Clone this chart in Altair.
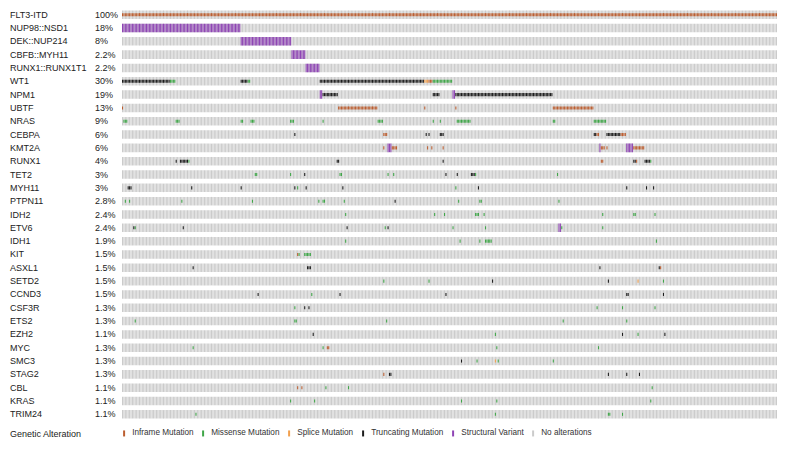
import altair as alt
import pandas as pd

GENES = ["FLT3-ITD", "NUP98::NSD1", "DEK::NUP214", "CBFB::MYH11", "RUNX1::RUNX1T1",
         "WT1", "NPM1", "UBTF", "NRAS", "CEBPA", "KMT2A", "RUNX1", "TET2", "MYH11",
         "PTPN11", "IDH2", "ETV6", "IDH1", "KIT", "ASXL1", "SETD2", "CCND3", "CSF3R",
         "ETS2", "EZH2", "MYC", "SMC3", "STAG2", "CBL", "KRAS", "TRIM24"]
PCTS = ["100%", "18%", "8%", "2.2%", "2.2%", "30%", "19%", "13%", "9%", "6%", "6%",
        "4%", "3%", "3%", "2.8%", "2.4%", "2.4%", "1.9%", "1.5%", "1.5%", "1.5%",
        "1.5%", "1.3%", "1.3%", "1.1%", "1.3%", "1.3%", "1.3%", "1.1%", "1.1%", "1.1%"]
N_SAMPLES = 464

TYPES = ["Inframe Mutation", "Missense Mutation", "Splice Mutation",
         "Truncating Mutation", "Structural Variant", "No alterations"]
COLORS = ["#bc5e30", "#3fa648", "#f2a04e", "#1c1c1c", "#8f45b5", "#cbcbcb"]

# runs of samples: (gene, first sample, last sample + 1)
STRUCTURAL = [("NUP98::NSD1", 0, 84), ("DEK::NUP214", 84, 120), ("CBFB::MYH11", 120, 130),
              ("RUNX1::RUNX1T1", 130, 140), ("NPM1", 140, 142), ("NPM1", 234, 236),
              ("KMT2A", 188, 191), ("KMT2A", 338, 339), ("KMT2A", 357, 362), ("ETV6", 309, 311)]

INFRAME = [("FLT3-ITD", 0, 464), ("WT1", 217, 220),
           ("UBTF", 0, 1), ("UBTF", 153, 181), ("UBTF", 214, 215), ("UBTF", 236, 237), ("UBTF", 305, 334),
           ("CEBPA", 185, 188), ("CEBPA", 336, 338), ("CEBPA", 353, 357),
           ("KMT2A", 185, 186), ("KMT2A", 191, 195), ("KMT2A", 216, 217), ("KMT2A", 219, 220),
           ("KMT2A", 227, 228), ("KMT2A", 339, 342), ("KMT2A", 343, 344), ("KMT2A", 362, 370),
           ("RUNX1", 339, 341), ("RUNX1", 364, 365), ("KIT", 124, 125), ("ASXL1", 381, 382),
           ("MYC", 145, 147), ("CBL", 124, 125), ("CBL", 127, 128), ("STAG2", 185, 186)]

SPLICE = [("WT1", 214, 217), ("SETD2", 365, 366), ("SMC3", 264, 265)]

MISSENSE = [("WT1", 34, 38), ("WT1", 89, 91), ("WT1", 220, 234),
            ("NRAS", 1, 4), ("NRAS", 38, 41), ("NRAS", 84, 86), ("NRAS", 91, 94), ("NRAS", 119, 122),
            ("NRAS", 142, 143), ("NRAS", 181, 185), ("NRAS", 220, 221), ("NRAS", 225, 226),
            ("NRAS", 237, 247), ("NRAS", 305, 307), ("NRAS", 334, 343),
            ("RUNX1", 47, 48), ("RUNX1", 374, 375),
            ("TET2", 94, 96), ("TET2", 119, 120), ("TET2", 154, 156), ("TET2", 188, 189),
            ("TET2", 192, 193), ("TET2", 250, 251), ("TET2", 308, 309),
            ("MYH11", 124, 125), ("MYH11", 236, 237),
            ("PTPN11", 2, 3), ("PTPN11", 5, 6), ("PTPN11", 42, 43), ("PTPN11", 92, 93),
            ("PTPN11", 139, 140), ("PTPN11", 142, 144), ("PTPN11", 157, 158), ("PTPN11", 238, 239),
            ("PTPN11", 253, 255), ("PTPN11", 309, 310),
            ("IDH2", 158, 159), ("IDH2", 221, 222), ("IDH2", 228, 229), ("IDH2", 250, 253),
            ("IDH2", 256, 257), ("IDH2", 340, 341), ("IDH2", 362, 364), ("IDH2", 377, 378),
            ("ETV6", 9, 10), ("ETV6", 186, 187), ("ETV6", 234, 235), ("ETV6", 257, 258),
            ("ETV6", 311, 312), ("ETV6", 340, 341),
            ("IDH1", 158, 159), ("IDH1", 239, 240), ("IDH1", 253, 254), ("IDH1", 257, 262), ("IDH1", 378, 379),
            ("KIT", 125, 126), ("KIT", 129, 134),
            ("SETD2", 185, 186), ("SETD2", 217, 218), ("SETD2", 383, 384),
            ("CCND3", 134, 135),
            ("CSF3R", 122, 123), ("CSF3R", 336, 337), ("CSF3R", 354, 355), ("CSF3R", 377, 378),
            ("ETS2", 9, 10), ("ETS2", 122, 124), ("ETS2", 187, 188), ("ETS2", 312, 313), ("ETS2", 357, 358),
            ("EZH2", 264, 265), ("EZH2", 365, 366),
            ("MYC", 50, 51), ("MYC", 142, 143), ("MYC", 265, 266), ("MYC", 337, 338),
            ("SMC3", 251, 252), ("SMC3", 266, 267), ("SMC3", 305, 306),
            ("CBL", 144, 145), ("CBL", 160, 161), ("CBL", 375, 376),
            ("KRAS", 119, 120), ("KRAS", 136, 137), ("KRAS", 240, 241), ("KRAS", 265, 266), ("KRAS", 374, 375),
            ("TRIM24", 52, 53), ("TRIM24", 264, 265), ("TRIM24", 344, 346), ("TRIM24", 354, 355)]

TRUNCATING = [("WT1", 0, 34), ("WT1", 84, 89), ("WT1", 140, 214),
              ("NPM1", 142, 153), ("NPM1", 220, 225), ("NPM1", 236, 305),
              ("CEBPA", 122, 123), ("CEBPA", 215, 216), ("CEBPA", 217, 218), ("CEBPA", 225, 228),
              ("CEBPA", 334, 336), ("CEBPA", 343, 353),
              ("RUNX1", 38, 39), ("RUNX1", 41, 47), ("RUNX1", 152, 154), ("RUNX1", 227, 228),
              ("RUNX1", 362, 364), ("RUNX1", 370, 374),
              ("TET2", 129, 130), ("TET2", 229, 230), ("TET2", 237, 238), ("TET2", 247, 250),
              ("MYH11", 4, 7), ("MYH11", 49, 50), ("MYH11", 84, 85), ("MYH11", 122, 123),
              ("MYH11", 130, 131), ("MYH11", 156, 157), ("MYH11", 252, 253), ("MYH11", 357, 358),
              ("MYH11", 371, 372), ("MYH11", 376, 377),
              ("PTPN11", 193, 194),
              ("ETV6", 8, 9), ("ETV6", 43, 44), ("ETV6", 159, 160), ("ETV6", 188, 189),
              ("ASXL1", 50, 51), ("ASXL1", 131, 134), ("ASXL1", 338, 339), ("ASXL1", 380, 381),
              ("SETD2", 262, 263), ("SETD2", 344, 345),
              ("CCND3", 96, 97), ("CCND3", 154, 155), ("CCND3", 229, 230), ("CCND3", 357, 359),
              ("CCND3", 383, 384),
              ("CSF3R", 129, 130), ("CSF3R", 132, 133),
              ("EZH2", 135, 136), ("EZH2", 354, 355), ("EZH2", 384, 385),
              ("SMC3", 240, 241),
              ("STAG2", 189, 191), ("STAG2", 344, 345), ("STAG2", 357, 358), ("STAG2", 366, 367)]


def expand(runs, kind):
    return [{"gene": g, "s": s, "type": kind} for g, a, b in runs for s in range(a, b)]


bg = pd.DataFrame([{"gene": g, "s": s, "type": "No alterations"}
                   for g in GENES for s in range(N_SAMPLES)])
sv = pd.DataFrame(expand(STRUCTURAL, "Structural Variant"))
mut = pd.DataFrame(expand(INFRAME, "Inframe Mutation") + expand(SPLICE, "Splice Mutation")
                   + expand(MISSENSE, "Missense Mutation") + expand(TRUNCATING, "Truncating Mutation"))
labels = pd.DataFrame({"gene": GENES, "pct": PCTS})

FONT = "Liberation Sans"
xs = alt.X("s:O", scale=alt.Scale(domain=list(range(N_SAMPLES)), paddingInner=0.25, paddingOuter=0), axis=None)
ys = alt.Y("gene:N", scale=alt.Scale(domain=GENES, paddingInner=0.36, paddingOuter=0.18), axis=None)
legend = alt.Legend(title=None, orient="none", legendX=-2, legendY=421, direction="horizontal",
                    columns=6, symbolType="M-0.333,-1H0.333V1H-0.333Z", symbolSize=36,
                    symbolStrokeWidth=0, labelFontSize=8.2, labelFont=FONT, labelColor="#333",
                    columnPadding=5, labelOffset=4, padding=0)
color = alt.Color("type:N", scale=alt.Scale(domain=TYPES, range=COLORS), legend=legend)

bg_layer = alt.Chart(bg).mark_rect().encode(x=xs, y=ys, color=color)
sv_layer = alt.Chart(sv).mark_rect().encode(x=xs, y=ys, color=color)
mut_layer = alt.Chart(mut).mark_rect(height={"band": 0.36}).encode(x=xs, y=ys, color=color)

gene_text = alt.Chart(labels).mark_text(align="left", baseline="middle", fontSize=9, font=FONT,
                                        color="#222").encode(y=ys, x=alt.value(-112), text="gene:N")
pct_text = alt.Chart(labels).mark_text(align="left", baseline="middle", fontSize=9, font=FONT,
                                       color="#222").encode(y=ys, x=alt.value(-27), text="pct:N")
title_text = alt.Chart(pd.DataFrame({"t": ["Genetic Alteration"]})).mark_text(
    align="left", baseline="middle", fontSize=9, font=FONT, color="#222").encode(
    x=alt.value(-112), y=alt.value(426), text="t:N")

chart = alt.layer(bg_layer, sv_layer, mut_layer, gene_text, pct_text, title_text).properties(
    width=655, height=413,
    padding={"left": 114, "top": 0, "right": 2, "bottom": 25},
    autosize=alt.AutoSizeParams(type="none"),
).configure_view(stroke=None)

chart.save("out.html", embed_options={"renderer": "svg", "actions": False})
